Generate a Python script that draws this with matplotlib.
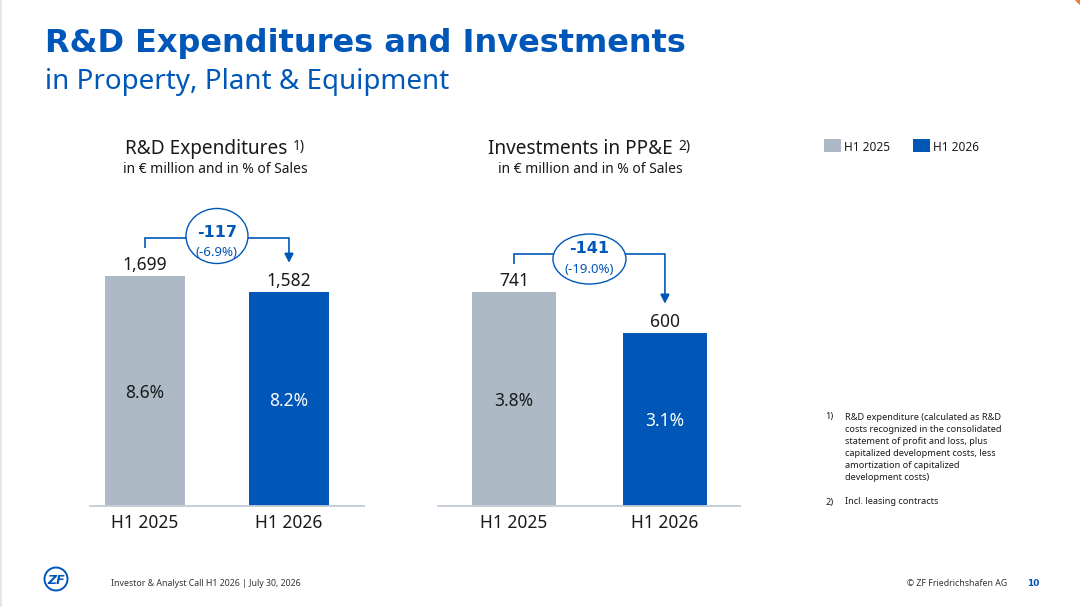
import matplotlib
matplotlib.use("Agg")
import matplotlib.pyplot as plt
from matplotlib.patches import Ellipse, Rectangle, Circle, FancyArrowPatch
from matplotlib.transforms import IdentityTransform

# ---------------- data ----------------
categories = ["H1 2025", "H1 2026"]
rd_values = [1699, 1582]
rd_share = ["8.6%", "8.2%"]
rd_delta = "-117"
rd_delta_pct = "(-6.9%)"
ppe_values = [741, 600]
ppe_share = ["3.8%", "3.1%"]
ppe_delta = "-141"
ppe_delta_pct = "(-19.0%)"

footnotes_1 = ["R&D expenditure (calculated as R&D",
               "costs recognized in the consolidated",
               "statement of profit and loss, plus",
               "capitalized development costs, less",
               "amortization of capitalized",
               "development costs)"]
footnote_2 = "Incl. leasing contracts"

# ---------------- style ----------------
BLUE = "#0057B8"
GRAY = "#ADBAC5"
TXT = "#1a1a1a"
AXL = "#C3CCD6"
BOLD = ['DejaVu Sans']

plt.rcParams['font.family'] = ['Noto Sans', 'DejaVu Sans']

W, H = 1080, 607
fig = plt.figure(figsize=(W / 100, H / 100), dpi=100)
fig.patch.set_facecolor("white")


def fx(x):
    return x / W


def fy(y):
    return 1 - y / H


def add_ax(x0, x1, ybot, ytop):
    return fig.add_axes([fx(x0), fy(ybot), (x1 - x0) / W, (ybot - ytop) / H])


def draw_panel(ax, values, shares, delta, delta_pct, xlim, ylim,
               ell_w, ell_h, ell_dy):
    xs = list(range(len(values)))
    ax.bar(xs, values, width=0.556, color=[GRAY, BLUE], zorder=2)
    ax.set_xlim(*xlim)
    ax.set_ylim(*ylim)
    for s in ['top', 'left', 'right']:
        ax.spines[s].set_visible(False)
    ax.spines['bottom'].set_color(AXL)
    ax.spines['bottom'].set_linewidth(1.3)
    ax.spines['bottom'].set_zorder(3)
    ax.set_yticks([])
    ax.set_xticks(xs)
    ax.set_xticklabels(categories, fontsize=12.5, color=TXT)
    ax.tick_params(axis='x', length=0, pad=6)
    ax.patch.set_alpha(0)

    for i, v in enumerate(values):
        ax.annotate(f"{v:,}", (i, v), xytext=(0, 6), textcoords='offset pixels',
                    ha='center', va='baseline', fontsize=12.5, color=TXT)
        ax.text(i, v / 2, shares[i], ha='center', va='center_baseline',
                fontsize=12.5, color=TXT if i == 0 else 'white')

    T = ax.transData
    inv = T.inverted()
    X0, Y0 = T.transform((0, values[0]))
    X1, Y1 = T.transform((1, values[1]))
    stub_y = inv.transform((X0, Y0 + 28))[1]
    top_y = inv.transform((X0, Y0 + 38))[1]
    tip_y = inv.transform((X1, Y1 + 29))[1]
    ax.plot([0, 0, 1], [stub_y, top_y, top_y], color=BLUE, lw=1.2,
            clip_on=False, solid_joinstyle='miter', solid_capstyle='butt', zorder=4)
    arr = FancyArrowPatch((1, top_y), (1, tip_y),
                          arrowstyle='-|>,head_length=5.5,head_width=2.8',
                          mutation_scale=1, color=BLUE, lw=1.2,
                          shrinkA=0, shrinkB=0, clip_on=False, zorder=4,
                          joinstyle='miter')
    ax.add_patch(arr)

    px_x = T.transform((1, 0))[0] - T.transform((0, 0))[0]
    px_y = T.transform((0, 1))[1] - T.transform((0, 0))[1]
    Ytop = Y0 + 38
    cy = inv.transform((X0, Ytop + ell_dy))[1]
    ell = Ellipse((0.5, cy), ell_w / px_x, ell_h / px_y, facecolor='white',
                  edgecolor=BLUE, lw=1.0, clip_on=False, zorder=5)
    ax.add_patch(ell)
    ty1 = inv.transform((X0, Ytop + 7))[1]
    ty2 = inv.transform((X0, Ytop - 13.5))[1]
    ax.text(0.5, ty1, delta, ha='center', va='center_baseline', fontsize=11.5,
            fontweight='bold', family=BOLD, color=BLUE, zorder=6, clip_on=False)
    ax.text(0.5, ty2, delta_pct, ha='center', va='center_baseline', fontsize=9.5,
            color=BLUE, zorder=6, clip_on=False)


# ---------------- panels ----------------
ax1 = add_ax(90, 364, 506, 180)
draw_panel(ax1, rd_values, rd_share, rd_delta, rd_delta_pct,
           xlim=(-0.382, 1.521), ylim=(0, 2408), ell_w=62, ell_h=55, ell_dy=2)

ax2 = add_ax(438, 740, 506, 180)
draw_panel(ax2, ppe_values, ppe_share, ppe_delta, ppe_delta_pct,
           xlim=(-0.503, 1.497), ylim=(0, 1129), ell_w=73, ell_h=50, ell_dy=-5)

# ---------------- titles ----------------
fig.text(fx(45), fy(52), "R&D Expenditures and Investments", fontsize=23,
         fontweight='bold', family=BOLD, color=BLUE, ha='left', va='baseline')
fig.text(fx(45), fy(89), "in Property, Plant & Equipment", fontsize=20,
         color=BLUE, ha='left', va='baseline')

t1 = fig.text(fx(206), fy(154), "R&D Expenditures", fontsize=13.7, color=TXT,
              ha='center', va='baseline')
fig.text(fx(215), fy(173), "in € million and in % of Sales", fontsize=10,
         color=TXT, ha='center', va='baseline')
t2 = fig.text(fx(580), fy(154), "Investments in PP&E", fontsize=13.7, color=TXT,
              ha='center', va='baseline')
fig.text(fx(590), fy(173), "in € million and in % of Sales", fontsize=10,
         color=TXT, ha='center', va='baseline')
for t, sup in ((t1, "1)"), (t2, "2)")):
    plt.annotate(sup, xy=(1, 0), xycoords=t, xytext=(6, 9),
                 textcoords='offset pixels', fontsize=10, color=TXT,
                 ha='left', va='baseline', annotation_clip=False)

# ---------------- legend ----------------
for (x0, col, lab) in ((824, GRAY, categories[0]), (913, BLUE, categories[1])):
    fig.patches.append(Rectangle((fx(x0), fy(152)), 17 / W, 13 / H,
                                 transform=fig.transFigure, facecolor=col,
                                 edgecolor='none'))
    fig.text(fx(x0 + 20), fy(146), lab, fontsize=8.5, color=TXT,
             ha='left', va='center_baseline')

# ---------------- footnotes ----------------
FN = 6.6
fn_y = [416, 428, 440, 452, 464, 477]
fig.text(fx(825), fy(fn_y[0]), "1)", fontsize=FN, color=TXT, ha='left',
         va='center_baseline')
for y, line in zip(fn_y, footnotes_1):
    fig.text(fx(845), fy(y), line, fontsize=FN, color=TXT, ha='left',
             va='center_baseline')
fig.text(fx(825), fy(501), "2)", fontsize=FN, color=TXT, ha='left',
         va='center_baseline')
fig.text(fx(845), fy(501), footnote_2, fontsize=FN, color=TXT, ha='left',
         va='center_baseline')

# ---------------- footer ----------------
fig.patches.append(Circle((56, H - 579), 11.5, transform=IdentityTransform(),
                          facecolor='white', edgecolor=BLUE, lw=1.4))
fig.text(fx(56), fy(579), "ZF", fontsize=9, fontweight='bold', style='italic',
         family=BOLD, color=BLUE, ha='center', va='center_baseline')
fig.text(fx(111), fy(582), "Investor & Analyst Call H1 2026 | July 30, 2026",
         fontsize=6.3, color="#333333", ha='left', va='center_baseline')
fig.text(fx(907), fy(582), "© ZF Friedrichshafen AG", fontsize=6.3,
         color="#333333", ha='left', va='center_baseline')
fig.text(fx(1027), fy(582), "10", fontsize=6.5, fontweight='bold', family=BOLD,
         color=BLUE, ha='left', va='center_baseline')

# decorative slide edges
fig.patches.append(Rectangle((0, 0), 2, H, transform=IdentityTransform(),
                             facecolor='#E6E6E6', edgecolor='none'))
fig.patches.append(Circle((1095, H + 15), 25, transform=IdentityTransform(),
                          facecolor='#F47A3C', edgecolor='none'))

fig.savefig("out.png", dpi=100)
